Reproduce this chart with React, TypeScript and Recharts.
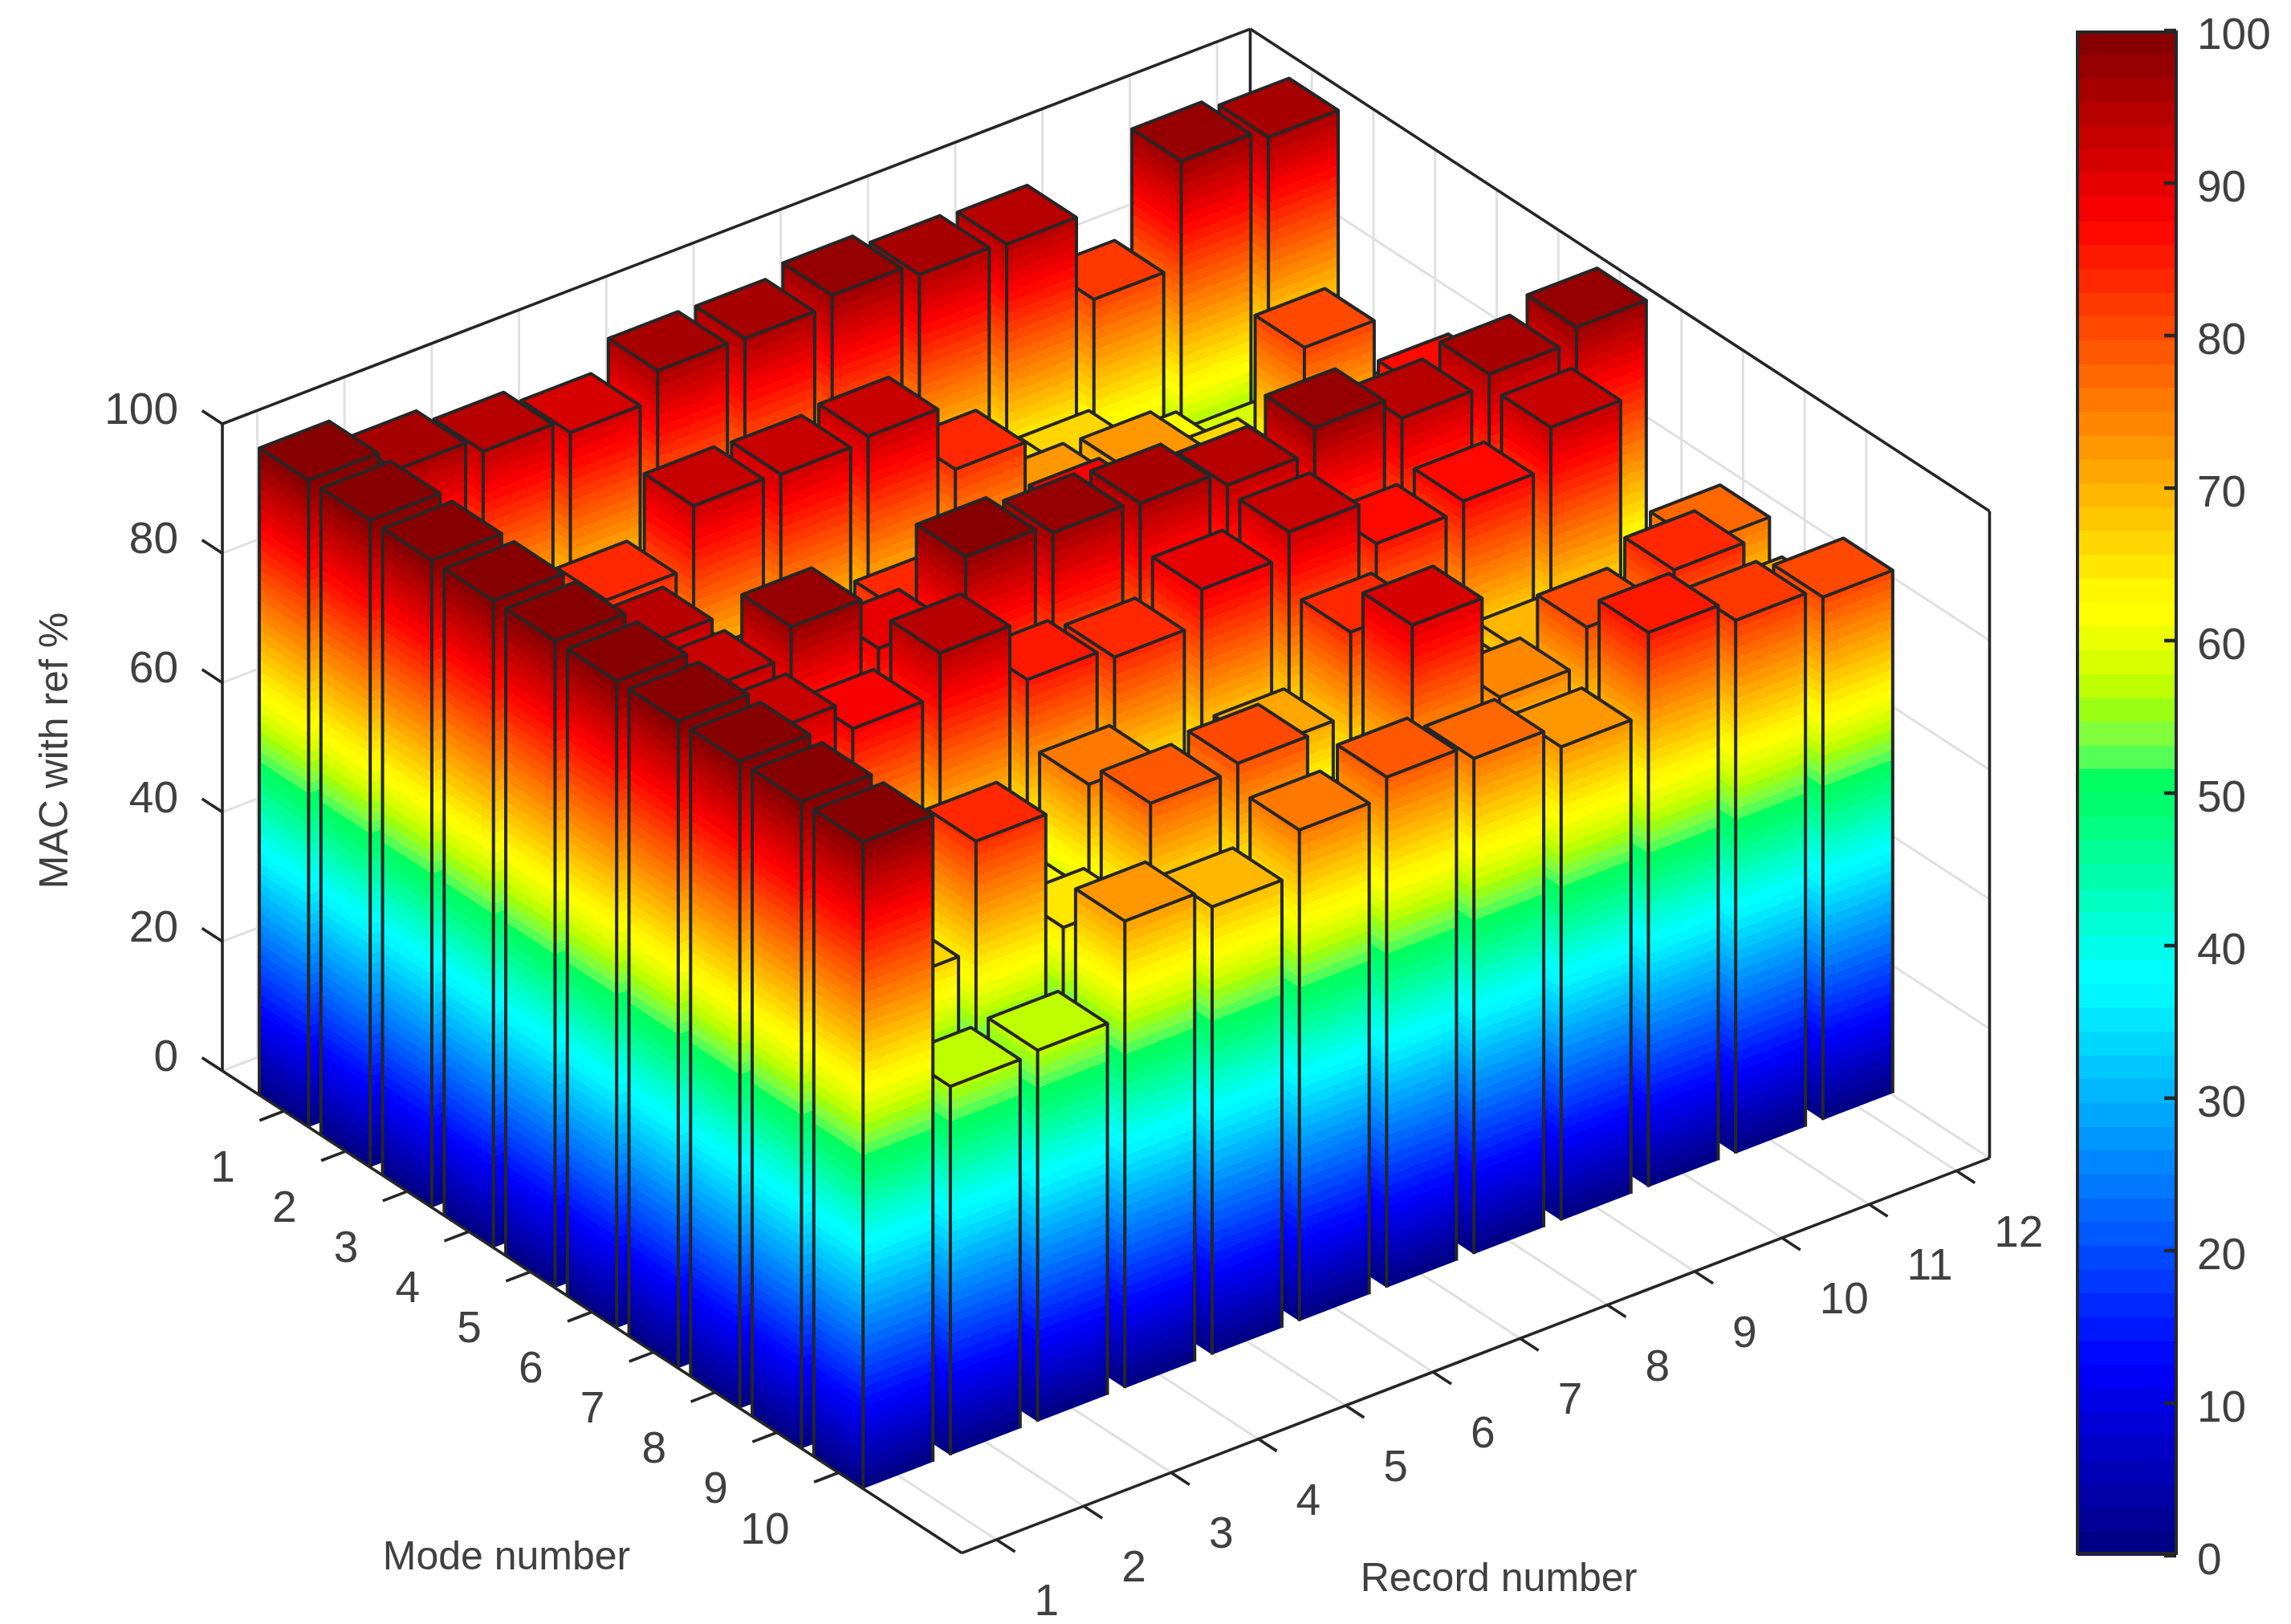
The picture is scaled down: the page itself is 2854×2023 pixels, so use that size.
import { BarChart, Bar, ScatterChart, Scatter, XAxis, YAxis } from "recharts";

// one list per mode, values for records 1..12 (% MAC)
const mode1 = [100, 96.4, 94.1, 91.8, 96.2, 96, 97.5, 95.5, 95, 81.3, 97.5, 96];
const mode2 = [100, 80, 70, 68, 75, 75, 75, 65, 66.4, 61, 58, 55];
const mode3 = [100, 80, 83.5, 92.9, 92.6, 93.3, 83, 72.7, 72.4, 66.2, 81.1, 65];
const mode4 = [100, 80, 78, 72, 70, 70, 70, 68, 62, 65, 70, 65];
const mode5 = [100, 94, 80, 80, 83.5, 80, 88, 75, 75, 78, 86.5, 75];
const mode6 = [100, 93.5, 98, 89.5, 98.5, 97, 96.4, 94, 97.7, 94, 95.6, 97.7];
const mode7 = [100, 93, 88.5, 95, 85.7, 84, 89.3, 93, 86, 87.4, 93.6, 55];
const mode8 = [100, 78, 68, 62, 75.7, 66, 71, 83.7, 70, 70, 65, 76.6];
const mode9 = [100, 66.7, 83.5, 65, 79, 80, 63, 91, 74.7, 80.3, 84, 71.7];
const mode10 = [100, 57, 57.4, 72.2, 69.2, 75.9, 78.9, 76.6, 73.2, 85.7, 82.4, 80.8];
const modes = [mode1, mode2, mode3, mode4, mode5, mode6, mode7, mode8, mode9, mode10];

const modeTicks = [1, 2, 3, 4, 5, 6, 7, 8, 9, 10];
const recordTicks = [1, 2, 3, 4, 5, 6, 7, 8, 9, 10, 11, 12];
const zTicks = [0, 20, 40, 60, 80, 100];
const colorbarTicks = [0, 10, 20, 30, 40, 50, 60, 70, 80, 90, 100];

const W = 2854;
const H = 2023;
const LEVELS = 64;
const STEP = 100 / LEVELS;

// view of the box: px per unit along each data axis
const DM = [76.75, 50.05];
const DR = [108.7, -41.76];
const DZ = 8.06;
const MMAX = 12;
const RMIN = 0.6;
const RMAX = 12.38;
const HALF = 0.4;

const INK = "#262626";
const TEXT = "#404040";
const GRID = "#e0e0e0";
const FONT = "'Liberation Sans', Arial, sans-serif";

// the green part of this colormap is not plain jet
const greenLevels: Record<number, number[]> = {
  24: [0, 255, 255],
  25: [0, 255, 235],
  26: [0, 255, 215],
  27: [0, 255, 195],
  28: [0, 255, 170],
  29: [0, 255, 150],
  30: [0, 255, 128],
  31: [0, 255, 110],
  32: [0, 255, 96],
  33: [85, 255, 85],
  34: [130, 255, 60],
  35: [155, 255, 20],
  36: [190, 255, 0],
  37: [215, 255, 0],
  38: [235, 255, 0],
  39: [255, 255, 0],
};

const project = (m: number, r: number, z: number) => ({
  x: 277 + DM[0] * m + DR[0] * (r - RMIN),
  y: 1334 + DM[1] * m + DR[1] * (r - RMIN) - DZ * z,
});

const clamp = (t: number) => Math.round(255 * Math.max(0, Math.min(1, t)));
const jetLevel = (k: number) => {
  if (greenLevels[k]) return `rgb(${greenLevels[k].join(",")})`;
  const t = (k + 0.5) / LEVELS;
  const c = (o: number) => clamp(1.5 - Math.abs(4 * t - o));
  return `rgb(${c(3)},${c(2)},${c(1)})`;
};
const jet = (v: number) => jetLevel(Math.min(LEVELS - 1, Math.floor(v / STEP)));

const seg = (a: any, b: any) => ({ x: a.x, y: a.y, x2: b.x, y2: b.y });

const gridSegs: any[] = [];
zTicks.forEach((z) => {
  gridSegs.push(seg(project(0, RMIN, z), project(0, RMAX, z)));
  gridSegs.push(seg(project(0, RMAX, z), project(MMAX, RMAX, z)));
});
recordTicks.forEach((r) => {
  gridSegs.push(seg(project(0, r, 0), project(0, r, 100)));
  gridSegs.push(seg(project(0, r, 0), project(MMAX, r, 0)));
});
modeTicks.forEach((m) => {
  gridSegs.push(seg(project(m, RMAX, 0), project(m, RMAX, 100)));
  gridSegs.push(seg(project(m, RMIN, 0), project(m, RMAX, 0)));
});

const backSegs = [
  seg(project(0, RMIN, 0), project(0, RMIN, 100)),
  seg(project(0, RMAX, 0), project(0, RMAX, 100)),
  seg(project(MMAX, RMAX, 0), project(MMAX, RMAX, 100)),
  seg(project(0, RMIN, 100), project(0, RMAX, 100)),
  seg(project(0, RMAX, 100), project(MMAX, RMAX, 100)),
];

const frontSegs: any[] = [
  seg(project(0, RMIN, 0), project(MMAX, RMIN, 0)),
  seg(project(MMAX, RMIN, 0), project(MMAX, RMAX, 0)),
];
modeTicks.forEach((m) => {
  frontSegs.push(seg(project(m, RMIN, 0), project(m, RMIN - 0.28, 0)));
});
recordTicks.forEach((r) => {
  frontSegs.push(seg(project(MMAX, r, 0), project(MMAX + 0.3, r, 0)));
});
zTicks.forEach((z) => {
  frontSegs.push(seg(project(0, RMIN, z), project(-0.33, RMIN, z)));
});

// back to front, so nearer bars paint over farther ones
const bars: any[] = [];
modes.forEach((values, i) => {
  for (let j = values.length - 1; j >= 0; j--) {
    const p = project(i + 1, j + 1, 0);
    bars.push({ x: p.x, y: p.y, v: values[j] });
  }
});

const labels: any[] = [];
zTicks.forEach((z) => {
  const p = project(0, RMIN, z);
  labels.push({ x: 222, y: p.y - 19, text: String(z), anchor: "end" });
});
modeTicks.forEach((m) => {
  const p = project(m, RMIN, 0);
  labels.push({ x: p.x - 61, y: p.y + 69, text: String(m), anchor: "end" });
});
recordTicks.forEach((r) => {
  const p = project(MMAX, r, 0);
  labels.push({ x: p.x + 47, y: p.y + 75, text: String(r), anchor: "start" });
});

const titles = [
  { x: 631, y: 1938, text: "Mode number", rotate: 0 },
  { x: 1867, y: 1965, text: "Record number", rotate: 0 },
  { x: 67, y: 935, text: "MAC with ref %", rotate: -90 },
];

const levels = Array.from({ length: LEVELS }, (_, k) => k);
const colorbarRow: any = { name: "colorbar" };
levels.forEach((k) => {
  colorbarRow[`b${k}`] = STEP;
});

const poly = (pts: number[][]) => pts.map((p) => p.join(",")).join(" ");

function BarShape(props: any) {
  const { cx, cy, payload } = props;
  const v = payload.v;
  const at = (a: number, b: number, z: number) => [
    cx + DM[0] * a + DR[0] * b,
    cy + DM[1] * a + DR[1] * b - DZ * z,
  ];
  // each slice runs up to the top of the bar, the next one paints over it (no seams)
  const slices = [];
  for (let k = 0; k * STEP < v; k++) {
    const lo = k * STEP;
    const fill = jetLevel(k);
    slices.push(
      <polygon key={`l${k}`} fill={fill} points={poly([at(-HALF, -HALF, lo), at(HALF, -HALF, lo), at(HALF, -HALF, v), at(-HALF, -HALF, v)])} />,
      <polygon key={`r${k}`} fill={fill} points={poly([at(HALF, -HALF, lo), at(HALF, HALF, lo), at(HALF, HALF, v), at(HALF, -HALF, v)])} />,
    );
  }
  const top = [at(-HALF, -HALF, v), at(HALF, -HALF, v), at(HALF, HALF, v), at(-HALF, HALF, v)];
  const edge = (a: number, b: number) => {
    const p = at(a, b, 0);
    const q = at(a, b, v);
    return <line x1={p[0]} y1={p[1]} x2={q[0]} y2={q[1]} stroke={INK} strokeWidth={4} />;
  };
  return (
    <g>
      {slices}
      {edge(-HALF, -HALF)}
      {edge(HALF, -HALF)}
      {edge(HALF, HALF)}
      <polygon points={poly(top)} fill={jet(v)} stroke={INK} strokeWidth={4} strokeLinejoin="round" />
    </g>
  );
}

const lineShape = (color: string, width: number) => (props: any) => {
  const { cx, cy, payload } = props;
  return <line x1={cx} y1={cy} x2={payload.x2} y2={payload.y2} stroke={color} strokeWidth={width} />;
};

function LabelShape(props: any) {
  const { cx, cy, payload } = props;
  return (
    <text x={cx} y={cy} textAnchor={payload.anchor} dominantBaseline="central" fontSize={55} fontFamily={FONT} fill={TEXT}>
      {payload.text}
    </text>
  );
}

function TitleShape(props: any) {
  const { cx, cy, payload } = props;
  return (
    <text x={cx} y={cy} textAnchor="middle" dominantBaseline="central" fontSize={50} fontFamily={FONT} fill={TEXT} transform={`rotate(${payload.rotate} ${cx} ${cy})`}>
      {payload.text}
    </text>
  );
}

function ColorbarTick(props: any) {
  const { x, y, payload } = props;
  return (
    <g>
      <line x1={x - 15} y1={y} x2={x} y2={y} stroke={INK} strokeWidth={4.5} />
      <text x={x + 26} y={y + 4} dominantBaseline="central" fontSize={55} fontFamily={FONT} fill={TEXT}>
        {payload.value}
      </text>
    </g>
  );
}

export default function App() {
  return (
    <div style={{ position: "relative", width: W, height: H, margin: -8, background: "#fff", overflow: "hidden" }}>
      <div style={{ position: "absolute", left: 0, top: 0 }}>
        <ScatterChart width={W} height={H} margin={{ top: 0, right: 0, bottom: 0, left: 0 }}>
          <XAxis type="number" dataKey="x" domain={[0, W]} hide />
          <YAxis type="number" dataKey="y" domain={[0, H]} reversed hide />
          <Scatter data={gridSegs} shape={lineShape(GRID, 3)} isAnimationActive={false} />
          <Scatter data={backSegs} shape={lineShape(INK, 3.6)} isAnimationActive={false} />
          <Scatter data={bars} shape={BarShape} isAnimationActive={false} />
          <Scatter data={frontSegs} shape={lineShape(INK, 3.6)} isAnimationActive={false} />
          <Scatter data={labels} shape={LabelShape} isAnimationActive={false} />
          <Scatter data={titles} shape={TitleShape} isAnimationActive={false} />
        </ScatterChart>
      </div>
      <div style={{ position: "absolute", left: 2540, top: 0 }}>
        <BarChart
          width={314}
          height={H}
          data={[colorbarRow]}
          barCategoryGap={0}
          margin={{ top: 38, right: 0, bottom: 85, left: 48 }}
        >
          <XAxis dataKey="name" hide />
          <YAxis
            orientation="right"
            type="number"
            domain={[0, 100]}
            ticks={colorbarTicks}
            interval={0}
            width={143}
            axisLine={false}
            tickLine={false}
            tickSize={0}
            tickMargin={0}
            tick={ColorbarTick}
          />
          {levels.map((k) => (
            <Bar
              key={k}
              dataKey={`b${k}`}
              stackId="jet"
              fill={jetLevel(k)}
              shapeRendering="crispEdges"
              isAnimationActive={false}
            />
          ))}
        </BarChart>
      </div>
      <div
        style={{
          position: "absolute",
          left: 2586,
          top: 38,
          width: 127,
          height: 1899,
          boxSizing: "border-box",
          border: `4.5px solid ${INK}`,
        }}
      />
    </div>
  );
}
